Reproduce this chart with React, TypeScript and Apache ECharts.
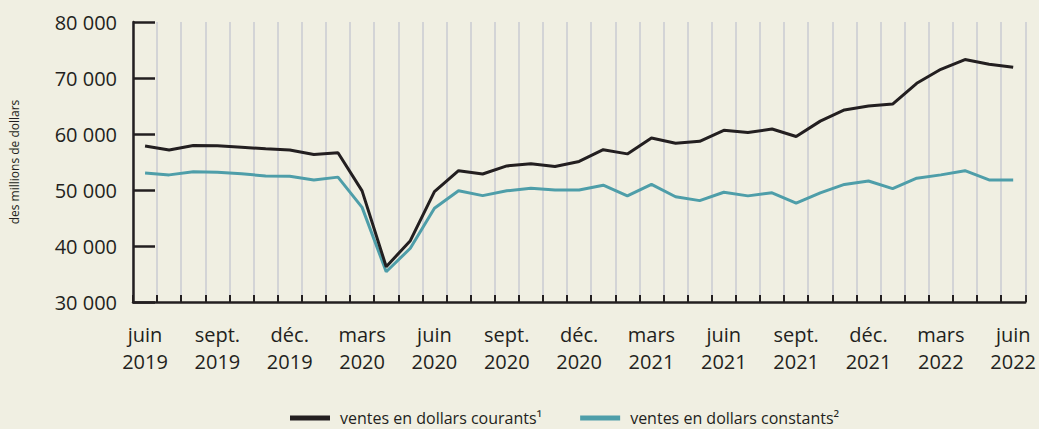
import React, { useEffect, useRef } from "react";
import * as echarts from "echarts";

const categories: string[] = [
  "juin 2019", "juil. 2019", "août 2019", "sept. 2019", "oct. 2019", "nov. 2019", "déc. 2019",
  "janv. 2020", "févr. 2020", "mars 2020", "avr. 2020", "mai 2020", "juin 2020", "juil. 2020",
  "août 2020", "sept. 2020", "oct. 2020", "nov. 2020", "déc. 2020", "janv. 2021", "févr. 2021",
  "mars 2021", "avr. 2021", "mai 2021", "juin 2021", "juil. 2021", "août 2021", "sept. 2021",
  "oct. 2021", "nov. 2021", "déc. 2021", "janv. 2022", "févr. 2022", "mars 2022", "avr. 2022",
  "mai 2022", "juin 2022",
];

const currentDollars: number[] = [
  57850, 57150, 57950, 57900, 57650, 57350, 57150, 56350, 56650, 49850, 36300, 40950, 49700,
  53450, 52850, 54300, 54700, 54200, 55100, 57200, 56450, 59300, 58350, 58700, 60650, 60250,
  60900, 59550, 62300, 64300, 65000, 65350, 69050, 71550, 73300, 72450, 71900,
];

const constantDollars: number[] = [
  53050, 52700, 53250, 53150, 52900, 52500, 52450, 51800, 52300, 46900, 35400, 39600, 46750,
  49850, 49000, 49850, 50300, 50000, 50000, 50850, 48950, 51000, 48800, 48100, 49600, 48950,
  49500, 47650, 49500, 51000, 51600, 50250, 52100, 52700, 53450, 51800, 51800,
];

const seriesNames: string[] = ["ventes en dollars courants¹", "ventes en dollars constants²"];
const yTicks = { min: 30000, max: 80000, interval: 10000 };
const yAxisTitle = "des millions de dollars";

const INK = "#231f20";
const TEAL = "#4e9ea9";
const FONT = "'Open Sans', 'Noto Sans', sans-serif";

export default function App() {
  const ref = useRef<HTMLDivElement>(null);
  useEffect(() => {
    document.body.style.margin = "0";
    if (!ref.current) return;
    const chart = echarts.init(ref.current, undefined, { renderer: "svg" });
    chart.setOption({
      animation: false,
      backgroundColor: "#f0efe2",
      textStyle: { fontFamily: FONT },
      grid: { left: 129, right: 13, top: 22, bottom: 127, containLabel: false },
      legend: {
        left: 285,
        top: 405,
        itemWidth: 40,
        itemHeight: 5,
        itemGap: 38,
        icon: "rect",
        textStyle: { fontSize: 16, color: INK, fontFamily: FONT, padding: [0, 0, 0, 5] },
        data: seriesNames,
      },
      xAxis: {
        type: "category",
        data: categories,
        boundaryGap: true,
        axisLine: { lineStyle: { color: INK, width: 2.5 } },
        axisTick: { show: true, inside: true, length: 7, interval: 0, lineStyle: { color: INK, width: 2 } },
        axisLabel: {
          interval: 2,
          margin: 19,
          fontSize: 20,
          lineHeight: 27,
          color: INK,
          fontFamily: FONT,
          formatter: (v: string) => v.replace(" ", "\n"),
        },
        splitLine: { show: true, interval: 0, lineStyle: { color: "#d3d4d6", width: 2 } },
      },
      yAxis: {
        type: "value",
        min: yTicks.min,
        max: yTicks.max,
        interval: yTicks.interval,
        name: yAxisTitle,
        nameLocation: "middle",
        nameGap: 113,
        nameTextStyle: { fontSize: 12, color: INK, fontFamily: FONT },
        axisLine: { show: true, lineStyle: { color: INK, width: 2.5 } },
        axisTick: { show: true, inside: true, length: 22, lineStyle: { color: INK, width: 2.5 } },
        axisLabel: {
          margin: 16,
          fontSize: 20,
          color: INK,
          fontFamily: FONT,
          formatter: (v: number) => {
            const s = String(Math.round(v));
            return s.slice(0, s.length - 3) + " " + s.slice(-3);
          },
        },
        splitLine: { show: false },
      },
      series: [
        {
          name: seriesNames[0],
          type: "line",
          data: currentDollars,
          symbol: "none",
          color: INK,
          lineStyle: { color: INK, width: 3 },
          z: 3,
        },
        {
          name: seriesNames[1],
          type: "line",
          data: constantDollars,
          symbol: "none",
          color: TEAL,
          lineStyle: { color: TEAL, width: 3 },
          z: 2,
        },
      ],
    });
    return () => chart.dispose();
  }, []);
  return <div ref={ref} style={{ width: 1039, height: 429 }} />;
}
